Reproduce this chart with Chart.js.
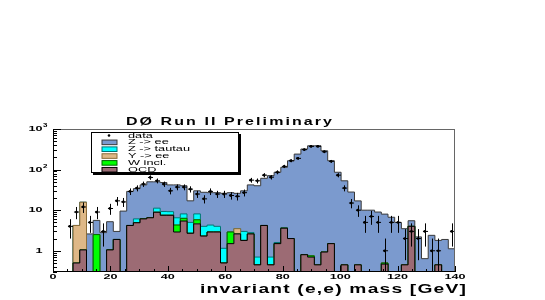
<!DOCTYPE html>
<html lang="en">
<head>
  <meta charset="UTF-8" />
  <title>DØ Run II Preliminary - invariant (e,e) mass</title>
  <script src="https://cdn.jsdelivr.net/npm/chart.js"></script>
  <style>
    html, body { margin: 0; padding: 0; background: #fff; }
    #wrap { width: 545px; height: 300px; }
  </style>
</head>
<body>
  <div id="wrap"><canvas id="massChart" width="545" height="300"></canvas></div>

  <script>
    // binning of the histograms: 60 bins between 0 and 140 GeV
    const nBins = 60, xMin = 0, xMax = 140;

    // bin contents (bins 0..59)
    const qcd = [0, 0, 0, 0.5, 1.05, 0, 0, 0, 1.05, 1.9,
      0, 4.2, 4.9, 6.1, 6.5, 8.9, 7.5, 7.5, 2.9, 5.4,
      2.7, 4.6, 2.3, 2.9, 2.9, 0.5, 1.5, 2.6, 1.8, 2.6,
      0.45, 4.2, 0.45, 1.5, 3.6, 2.0, 0, 0.8, 0.7, 0.45,
      0.93, 1.5, 0, 0.45, 0, 0.45, 0, 0, 0, 0.47,
      0, 0, 0.45, 4, 0, 0, 0, 0.45, 0, 0];
    const wIncl = [0, 0, 0, 0, 0, 0, 2.5, 0, 0, 0,
      0, 0, 0, 0, 0, 0, 0, 0, 1.4, 0.9,
      0, 1.2, 0, 0, 0, 0, 1.4, 0, 0, 0,
      0, 0, 0, 0, 0, 0, 0, 0, 0.05, 0,
      0, 0, 0, 0, 0, 0, 0, 0, 0, 0.03,
      0, 0, 0, 0, 0, 0, 0, 0, 0, 0];
    const yEE = [0, 0, 0, 3.7, 14.6, 0, 0, 0, 0, 0,
      0, 0, 0, 0, 0, 0, 0, 0, 0, 0,
      0, 0, 0, 0, 0, 0, 0, 0.9, 0, 0,
      0, 0, 0, 0, 0, 0, 0, 0, 0, 0,
      0, 0, 0, 0, 0, 0, 0, 0, 0, 0,
      0, 0, 0, 0, 0, 0, 0, 0, 0, 0];
    const zTauTau = [0, 0, 0, 0, 0, 0, 0, 0, 0, 0,
      0, 0, 1.2, 0, 0, 2.3, 1.8, 1.7, 2.2, 1.8,
      2.3, 2.3, 1.7, 1.4, 1.1, 0.65, 0, 0, 1.2, 0.2,
      0.25, 0, 0.25, 0.1, 0.1, 0, 0, 0, 0, 0,
      0, 0, 0, 0, 0, 0, 0, 0, 0, 0,
      0, 0, 0, 0, 0, 0, 0, 0, 0, 0];
    const zEE = [0, 0, 0, 0, 0, 2.6, 3.1, 2.8, 4.15, 1.1,
      9.5, 24.8, 27.9, 35.9, 43.5, 38.8, 38.7, 32.8, 35.5, 31.9,
      12, 21.9, 23.6, 22.7, 23, 24.9, 24.1, 22.5, 27, 39.2,
      39.3, 56.8, 70.3, 84.4, 110.3, 163, 241, 320, 385, 386,
      289, 163.5, 86, 52.5, 28, 16.5, 10, 10, 9, 7.5,
      6.7, 5, 3.05, 1.5, 2.2, 0.64, 2.4, 1.35, 1.9, 1.12];
    const dataCounts = [0, 0, 4, 9, 12, 5, 9, 3, 11, 17,
      16, 29, 35, 44, 64, 53, 44, 30, 37, 37,
      33, 25, 19, 29, 25, 25, 23, 22, 27, 55,
      53, 73, 65, 86, 120, 165, 189, 310, 373, 373,
      275, 160, 73, 35, 15, 10, 5, 7, 5, 1,
      5, 5, 2, 3, 2, 3, 1, 1, 0, 3];

    const xTicks = [0, 20, 40, 60, 80, 100, 120, 140];
    const yTicks = [1, 10, 100, 1000];
    const yTickBase = ['1', '10', '10', '10'];
    const yTickExp = ['', '', '2', '3'];

    const titleText = 'DØ Run II Preliminary';
    const xTitle = 'invariant (e,e) mass [GeV]';
    const legendLabels = ['data', 'Z -> ee', 'Z -> tautau', 'Y -> ee', 'W incl.', 'QCD'];

    // stack order from the bottom, with fill / outline colours
    const stack = [
      { values: qcd, fill: '#9c6b74', line: '#000000' },
      { values: wIncl, fill: '#00ff00', line: '#006400' },
      { values: yEE, fill: '#deb887', line: '#8b6d3a' },
      { values: zTauTau, fill: '#00ffff', line: '#007373' },
      { values: zEE, fill: '#7b9ace', line: '#3a3a3a' }
    ];
    const legendStyle = [stack[4], stack[3], stack[2], stack[1], stack[0]];

    const binWidth = (xMax - xMin) / nBins;
    const edges = Array.from({ length: nBins + 1 }, (_, i) => xMin + i * binWidth);
    const centers = edges.slice(0, nBins).map(e => e + binWidth / 2);
    const floorVal = 0.05; // empty bins go below the axis and get clipped

    let running = new Array(nBins).fill(0);
    const stackDatasets = stack.map((s, k) => {
      running = running.map((v, i) => v + s.values[i]);
      const cum = running.slice();
      return {
        data: edges.map((e, j) => ({ x: e, y: Math.max(cum[Math.min(j, nBins - 1)], floorVal) })),
        stepped: 'before',
        borderColor: s.line,
        borderWidth: 1,
        backgroundColor: s.fill,
        fill: k === 0 ? 'start' : '-1',
        pointRadius: 0,
        order: 1
      };
    });

    const dataDataset = {
      data: centers.map((c, i) => ({ x: c, y: dataCounts[i] > 0 ? dataCounts[i] : null })),
      showLine: false,
      pointRadius: 1.4,
      pointBackgroundColor: '#000',
      pointBorderWidth: 0,
      order: 0
    };

    function stretchedText(ctx, text, x, y, font, sx, align, spacing) {
      ctx.save();
      ctx.font = font;
      if ('letterSpacing' in ctx) ctx.letterSpacing = (spacing || 0) + 'px';
      const w = ctx.measureText(text).width * sx;
      const left = align === 'right' ? x - w : align === 'center' ? x - w / 2 : x;
      ctx.translate(left, y);
      ctx.scale(sx, 1);
      ctx.textAlign = 'left';
      ctx.textBaseline = 'middle';
      ctx.fillStyle = '#000';
      ctx.fillText(text, 0, 0);
      ctx.restore();
      return w;
    }

    function seg(ctx, x1, y1, x2, y2) {
      ctx.beginPath();
      ctx.moveTo(x1, y1);
      ctx.lineTo(x2, y2);
      ctx.stroke();
    }

    // sqrt(N) error bars on the data points
    const errorBars = {
      id: 'errorBars',
      afterDatasetsDraw(chart) {
        const { ctx, chartArea, scales: { x, y } } = chart;
        const half = (x.getPixelForValue(binWidth) - x.getPixelForValue(0)) * 0.38;
        ctx.save();
        ctx.beginPath();
        ctx.rect(chartArea.left, chartArea.top, chartArea.width, chartArea.height);
        ctx.clip();
        ctx.strokeStyle = '#000';
        ctx.lineWidth = 1;
        dataCounts.forEach((n, i) => {
          if (!n) return;
          const err = Math.sqrt(n);
          const px = Math.round(x.getPixelForValue(centers[i])) + 0.5;
          const py = y.getPixelForValue(n);
          const lo = n - err > 0 ? y.getPixelForValue(n - err) : chartArea.bottom;
          seg(ctx, px, lo, px, y.getPixelForValue(n + err));
          seg(ctx, px - half, py, px + half, py);
        });
        ctx.restore();
      }
    };

    // ROOT style frame, inside ticks, labels, titles and legend box
    const rootDecor = {
      id: 'rootDecor',
      afterDraw(chart) {
        const { ctx, chartArea: a, scales: { x, y } } = chart;
        ctx.save();
        ctx.lineWidth = 1;
        ctx.strokeStyle = '#666';
        seg(ctx, a.left, a.top + 0.5, a.right, a.top + 0.5);
        seg(ctx, a.right - 0.5, a.top, a.right - 0.5, a.bottom);
        ctx.strokeStyle = '#000';
        seg(ctx, a.left + 0.5, a.top, a.left + 0.5, a.bottom);
        seg(ctx, a.left, a.bottom - 0.5, a.right, a.bottom - 0.5);

        // y ticks: decades and 2..9 minors
        for (let d = 0.1; d <= 1000; d *= 10) {
          for (let m = 1; m < 10; m++) {
            const v = d * m;
            if (v < y.min || v > y.max * 1.001) continue;
            const py = Math.round(y.getPixelForValue(v)) + 0.5;
            seg(ctx, a.left, py, a.left + (m === 1 ? 8 : 4), py);
          }
        }
        // x ticks
        for (let v = xMin; v <= xMax; v += 5) {
          const px = Math.round(x.getPixelForValue(v)) + 0.5;
          seg(ctx, px, a.bottom, px, a.bottom - (v % 20 === 0 ? 6 : 3));
        }

        // tick labels
        x.ticks.forEach(t => {
          stretchedText(ctx, String(t.value), x.getPixelForValue(t.value), a.bottom + 5,
            'bold 7px "Liberation Sans"', 1.8, 'center');
        });
        y.ticks.forEach((t, i) => {
          const py = y.getPixelForValue(t.value);
          stretchedText(ctx, yTickBase[i], 42.5, py, 'bold 7px "Liberation Sans"', 1.8, 'right');
          if (yTickExp[i]) {
            stretchedText(ctx, yTickExp[i], 43, py - 3, 'bold 5px "Liberation Sans"', 1.6, 'left');
          }
        });

        // titles
        stretchedText(ctx, titleText, 230, 122, 'bold 10px "Liberation Sans"', 1.6, 'center', 1.3);
        stretchedText(ctx, xTitle, 467, 290, 'bold 12px "Liberation Sans"', 1.6, 'right', 0.75);

        // legend
        const lx = 91, ly = 132, lw = 148, lh = 41;
        ctx.fillStyle = '#000';
        ctx.fillRect(lx + 2, ly + 2, lw, lh);
        ctx.fillStyle = '#fff';
        ctx.fillRect(lx, ly, lw, lh);
        ctx.strokeRect(lx + 0.5, ly + 0.5, lw - 1, lh - 1);
        legendLabels.forEach((label, i) => {
          const ry = ly + 3.5 + i * 6.85;
          if (i === 0) {
            ctx.fillStyle = '#000';
            ctx.beginPath();
            ctx.arc(109, ry, 1.3, 0, Math.PI * 2);
            ctx.fill();
          } else {
            const s = legendStyle[i - 1];
            ctx.fillStyle = s.fill;
            ctx.fillRect(102, ry - 2.3, 15, 4.6);
            ctx.strokeStyle = s.line;
            ctx.strokeRect(102, ry - 2.3, 15, 4.6);
          }
          stretchedText(ctx, label, 128, ry, '7.5px "Liberation Sans"', 1.7, 'left');
        });
        ctx.restore();
      }
    };

    new Chart(document.getElementById('massChart').getContext('2d'), {
      type: 'line',
      data: { datasets: [...stackDatasets, dataDataset] },
      options: {
        responsive: false,
        animation: false,
        layout: { padding: { left: 0, right: 90, top: 129, bottom: 0 } },
        plugins: { legend: { display: false }, tooltip: { enabled: false } },
        scales: {
          x: {
            type: 'linear', min: xMin, max: xMax,
            ticks: { display: false, stepSize: 20 },
            afterBuildTicks: s => { s.ticks = xTicks.map(v => ({ value: v })); },
            grid: { display: false }, border: { display: false },
            afterFit: s => { s.height = 28; }
          },
          y: {
            type: 'logarithmic', min: 0.32, max: 1000,
            ticks: { display: false },
            afterBuildTicks: s => { s.ticks = yTicks.map(v => ({ value: v })); },
            grid: { display: false }, border: { display: false },
            afterFit: s => { s.width = 53; }
          }
        }
      },
      plugins: [errorBars, rootDecor]
    });
  </script>
</body>
</html>
